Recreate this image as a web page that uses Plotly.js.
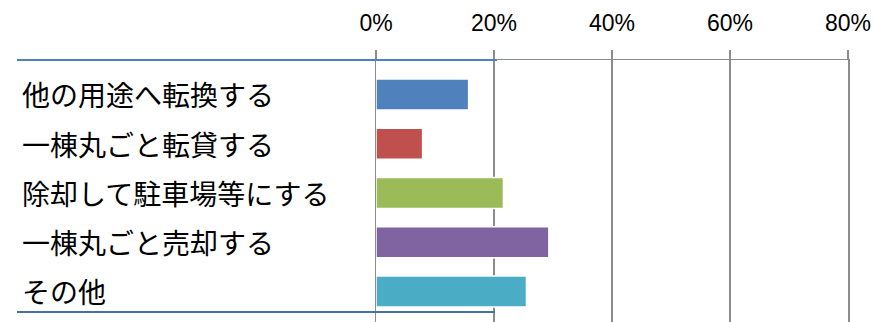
<!DOCTYPE html>
<html>
<head>
<meta charset="utf-8">
<script src="https://cdn.plot.ly/plotly-3.0.1.min.js"></script>
<style>html,body{margin:0;padding:0;background:#fff;}#chart{width:873px;height:322px;}</style>
</head>
<body>
<div id="chart"></div>
<script>
const categories = ["他の用途へ転換する", "一棟丸ごと転貸する", "除却して駐車場等にする", "一棟丸ごと売却する", "その他"];
const values = [0.157, 0.079, 0.216, 0.293, 0.255];
const colors = ["#4f81bd", "#c0504d", "#9bbb59", "#8064a2", "#4bacc6"];
const tickVals = [0, 0.2, 0.4, 0.6, 0.8];
const tickText = ["0%", "20%", "40%", "60%", "80%"];

const trace = {
  type: "bar",
  orientation: "h",
  x: values,
  y: categories,
  marker: {color: colors, line: {color: "#ffffff", width: 1.5}},
  hoverinfo: "none",
  cliponaxis: false
};

const annotations = categories.map(c => ({
  xref: "paper", yref: "y", x: -0.754, y: c, xanchor: "left", yanchor: "middle",
  text: c, showarrow: false,
  font: {family: "Noto Sans CJK JP", size: 28, color: "#000"}
}));

const layout = {
  width: 873, height: 322,
  margin: {l: 376, r: 25, t: 60, b: 0, pad: 0},
  paper_bgcolor: "#fff", plot_bgcolor: "#fff",
  showlegend: false,
  bargap: 0.37,
  xaxis: {
    side: "top", range: [0, 0.8], tickvals: tickVals, ticktext: tickText,
    showgrid: true, gridcolor: "#8c8c8c", gridwidth: 1.5,
    zeroline: false, showline: true, linecolor: "#8c8c8c", linewidth: 1.5,
    ticks: "outside", ticklen: 9, tickcolor: "#8c8c8c", tickwidth: 1.5,
    ticklabelstandoff: 9,
    tickfont: {family: "Liberation Sans", size: 23, color: "#000"}
  },
  yaxis: {
    type: "category", range: [4.62, -0.70], showticklabels: false,
    showgrid: false, zeroline: false, showline: true, mirror: true,
    linecolor: "#8c8c8c", linewidth: 1.5, ticks: ""
  },
  annotations: annotations,
  shapes: [
    {type: "line", xref: "paper", yref: "paper", x0: -0.7606, x1: 0.2564, y0: 1, y1: 1,
     line: {color: "#4f81bd", width: 2}},
    {type: "line", xref: "paper", yref: "paper", x0: -0.7606, x1: 0.252, y0: 0.038, y1: 0.038,
     line: {color: "#4a6fa8", width: 2}}
  ]
};

Plotly.newPlot("chart", [trace], layout, {staticPlot: true, displayModeBar: false});
</script>
</body>
</html>
